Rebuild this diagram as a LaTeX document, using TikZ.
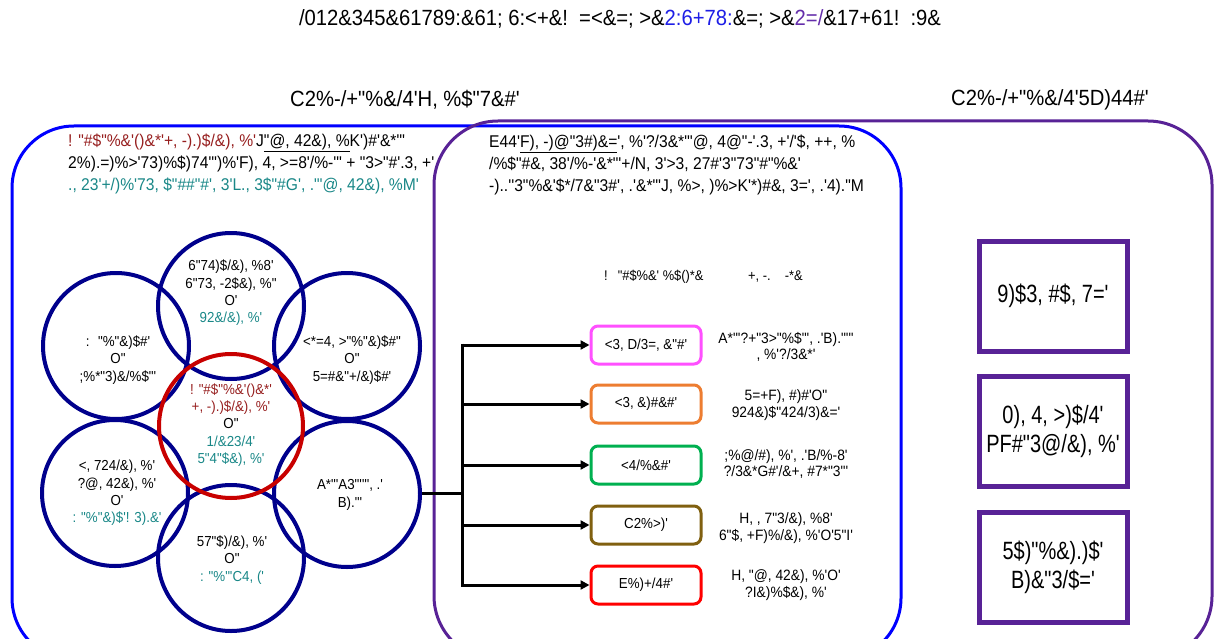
\documentclass[tikz,border=0pt]{standalone}
\usepackage{fontspec}
\usetikzlibrary{arrows.meta}
\newfontfamily\gf[FakeStretch=0.92]{Liberation Sans}
\newfontfamily\gfn[FakeStretch=0.8]{Liberation Sans}
\definecolor{navyc}{RGB}{0,0,140}
\definecolor{redc}{RGB}{200,0,0}
\definecolor{bluec}{RGB}{0,0,255}
\definecolor{purpc}{RGB}{88,34,150}
\definecolor{tealt}{RGB}{25,135,135}
\definecolor{redt}{RGB}{150,30,30}
\definecolor{tblue}{RGB}{30,30,230}
\definecolor{tpurple}{RGB}{100,45,170}
\definecolor{magc}{RGB}{255,80,255}
\definecolor{orgc}{RGB}{237,125,49}
\definecolor{grnc}{RGB}{0,176,80}
\definecolor{brnc}{RGB}{128,96,16}
\definecolor{rdc}{RGB}{255,0,0}
\tikzset{
  every node/.style={font=\gf, inner sep=0pt, text=black},
  ring/.style={circle, draw=navyc, line width=4pt, minimum size=146pt},
  redring/.style={circle, draw=redc, line width=4pt, minimum size=144pt},
  ctext/.style={align=center, font=\gf\fontsize{14.5}{17.3}\selectfont},
  para/.style={align=left, anchor=west, font=\gf\fontsize{17}{22}\selectfont},
  sect/.style={font=\gf\fontsize{22}{26}\selectfont},
  hdr/.style={font=\gf\fontsize{14}{16}\selectfont},
  tagbox/.style={rounded corners=7pt, line width=3pt, minimum width=110pt, minimum height=38pt, font=\gf\fontsize{14.5}{18}\selectfont},
  desc/.style={align=center, font=\gf\fontsize{15}{16.5}\selectfont},
  bigbox/.style={draw=purpc, line width=5pt, minimum width=148pt, minimum height=110pt, align=center, font=\gfn\fontsize{25}{29}\selectfont},
  conn/.style={line width=3pt, black},
  arr/.style={conn, -{Triangle[length=9pt,width=9pt]}},
}
\begin{document}
\begin{tikzpicture}[x=1pt,y=-1pt]
\useasboundingbox (0,0) rectangle (1214,639);
\begin{scope}
\clip (0,0) rectangle (1214,639);
\draw[bluec, line width=3pt, rounded corners=62pt] (12,126) rectangle (901,660);
\draw[purpc, line width=3pt, rounded corners=64pt] (434,121) rectangle (1212,660);
\end{scope}

% title
\node[font=\gf\fontsize{22}{26}\selectfont] (title) at (620,19) {/012\&345\&61789:\&61; 6:<+\&! \,=<\&=; >\&\textcolor{tblue}{2:6+78:}\&=; >\&\textcolor{tpurple}{2=/}\&17+61! \,:9\&};

% section labels
\node[sect] (lblL) at (405,100) {C2\%-/+"\%\&/4'H, \%\$"7\&\#'};
\node[sect] (lblR) at (1050,100) {C2\%-/+"\%\&/4'5D)44\#'};

% paragraphs
\node[para] (paraL) at (68,164) {\textcolor{redt}{! "\#\$"\%\&'()\&*'+, -).)\$/\&), \%'}J\underline{"@, 42\&), \%}K')\#'\&*"'\\
2\%).=)\%>'73)\%\$)74"')\%'F), 4, >=8'/\%-'" + "3>"\#'.3, +'\\
\textcolor{tealt}{., 23'+/)\%'73, \$"\#\#"\#', 3'L., 3\$"\#G', ."'@, 42\&), \%M'}};
\node[para] (paraM) at (489,165) {E44'\underline{F), -)@"3\#)\&=}', \%'?/3\&*"'@, 4@"-'.3, +'/'\$, ++, \%\\
/\%\$"\#\&, 38'/\%-'\&*"'+/N, 3'>3, 27\#'3"73"\#"\%\&'\\
-)..''3"\%\&'\$*/7\&"3\#', .'\&*"'J, \%>, )\%>K'*)\#\&, 3=', .'4)."M};

% header
\node[hdr, anchor=west] (hdA) at (604,277) {!\hspace{10pt}"\#\$\%\&' \%\$()*\&};
\node[hdr, anchor=west] (hdB) at (748,277) {+, -.\hspace{14pt}-*\&};

% circles
\node[ring] (cT) at (231,306) {};
\node[ring] (cUL) at (116,346) {};
\node[ring] (cUR) at (347,346) {};
\node[ring] (cLL) at (115,493) {};
\node[ring] (cLR) at (347,494) {};
\node[ring] (cB) at (231,558) {};
\node[redring] (cC) at (231,426) {};

\node[ctext] (tT) at (231,293) {6"74)\$/\&), \%8'\\6"73, -2\$\&), \%"\\O'\\\textcolor{tealt}{92\&/\&), \%'}};
\node[ctext] (tUL) at (118,360) {: \ "\%"\&)\$\#'\\O"\\;\%*"3)\&/\%\$"'};
\node[ctext] (tUR) at (352,360) {<*=4, >"\%"\&)\$\#"\\O"\\5=\#\&"+/\&)\$\#'};
\node[ctext] (tC) at (231,425) {\textcolor{redt}{! "\#\$"\%\&'()\&*'}\\\textcolor{redt}{+, -).)\$/\&), \%'}\\O"\\\textcolor{tealt}{1/\&23/4'}\\\textcolor{tealt}{5"4"\$\&), \%'}};
\node[ctext] (tLL) at (117,493) {<, 724/\&), \%'\\?@, 42\&), \%'\\O'\\\textcolor{tealt}{: "\%"\&)\$'! 3).\&'}};
\node[ctext] (tLR) at (350,495) {A*"'A3"'"', .'\\B)."'};
\node[ctext] (tB) at (232,560) {57"\$)/\&), \%'\\O"\\\textcolor{tealt}{: "\%"'C4, ('}};

% tag boxes
\node[tagbox, draw=magc] (b1) at (646,345) {<3, D/3=, \&"\#'};
\node[tagbox, draw=orgc] (b2) at (646,404) {<3, \&)\#\&\#'};
\node[tagbox, draw=grnc] (b3) at (646,465) {<4/\%\&\#'};
\node[tagbox, draw=brnc] (b4) at (646,525) {C2\%>)'};
\node[tagbox, draw=rdc] (b5) at (646,585) {E\%)+/4\#'};

\node[desc] (d1) at (786,347) {A*"'?+"3>"\%\$"', .'B)."'"\\, \%'?/3\&*'};
\node[desc] (d2) at (786,405) {5=+F), \#)\#'O"\\924\&)\$"424/3)\&='};
\node[desc] (d3) at (786,464) {;\%@/\#), \%', .'B/\%-8'\\?/3\&*G\#'/\&+, \#7*"3"'};
\node[desc] (d4) at (786,528) {H, , 7"3/\&), \%8'\\6"\$, +F)\%/\&), \%'O'5"I'};
\node[desc] (d5) at (786,585) {H, "@, 42\&), \%'O'\\?I\&)\%\$\&), \%'};

% connectors
\coordinate (jn) at (462,493);
\coordinate (j1) at (jn |- b1.west);
\coordinate (j2) at (jn |- b2.west);
\coordinate (j3) at (jn |- b3.west);
\coordinate (j4) at (jn |- b4.west);
\coordinate (j5) at (jn |- b5.west);
\draw[conn] (cLR.east |- jn) -- (jn);
\draw[conn] ([yshift=1.5pt]j1) -- ([yshift=-1.5pt]j5);
\draw[arr] (j1) -- (b1.west);
\draw[arr] (j2) -- (b2.west);
\draw[arr] (j3) -- (b3.west);
\draw[arr] (j4) -- (b4.west);
\draw[arr] (j5) -- (b5.west);

% right boxes
\node[bigbox] (r1) at (1053,296) {9)\$3, \#\$, 7='};
\node[bigbox] (r2) at (1053,431) {0), 4, >)\$/4'\\PF\#"3@/\&), \%'};
\node[bigbox] (r3) at (1053,567) {5\$)"\%\&).)\$'\\B)\&"3/\$='};
\end{tikzpicture}
\end{document}
